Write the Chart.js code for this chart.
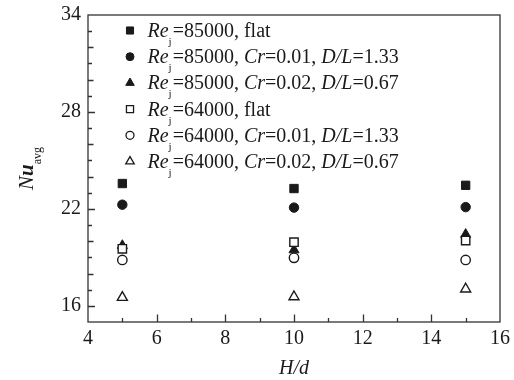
<!DOCTYPE html>
<html>
  <head>
    <script src="https://cdn.jsdelivr.net/npm/chart.js"></script>
    <style>
      body { margin: 0; background: #fff; }
    </style>
  </head>
  <body>
    <canvas id="nu-chart" width="514" height="380"></canvas>
    <script>
      // H/d positions of the measurements
      var hd = [5, 10, 15];

      // Nu_avg for Re_j = 85000
      var flat85 = [23.57, 23.26, 23.46];
      var cr01_85 = [22.26, 22.08, 22.11];
      var cr02_85 = [19.73, 19.46, 20.42];

      // Nu_avg for Re_j = 64000
      var flat64 = [19.53, 19.94, 20.04];
      var cr01_64 = [18.84, 18.97, 18.84];
      var cr02_64 = [16.52, 16.56, 17.04];

      var xTicks = [4, 6, 8, 10, 12, 14, 16];
      var yTicks = [16, 22, 28, 34];

      // legend pieces: jet Reynolds number and (Cr, D/L) of the surface
      var reValues = ['85000', '85000', '85000', '64000', '64000', '64000'];
      var crValues = [null, '0.01', '0.02', null, '0.01', '0.02'];
      var dlValues = [null, '1.33', '0.67', null, '1.33', '0.67'];

      var series = [flat85, cr01_85, cr02_85, flat64, cr01_64, cr02_64];
      var shapes = ['rect', 'circle', 'triangle', 'rect', 'circle', 'triangle'];
      var filled = [true, true, true, false, false, false];
      var radii = { rect: 5.9, circle: 4.7, triangle: 5.8 };

      var ink = '#1a1a1a';
      var serif = '"Liberation Serif", "Times New Roman", serif';

      var datasets = series.map(function(vals, i) {
        return {
          data: vals.map(function(v, k) { return { x: hd[k], y: v }; }),
          pointStyle: shapes[i],
          pointRadius: radii[shapes[i]],
          pointHoverRadius: radii[shapes[i]],
          backgroundColor: filled[i] ? ink : '#fff',
          borderColor: ink,
          pointBorderWidth: filled[i] ? 1 : 1.4,
          showLine: false,
          order: 6 - i
        };
      });

      function legendParts(i) {
        var parts = [['Re', 'i'], ['j', 's'], ['=' + reValues[i] + ', ', 'n']];
        if (crValues[i] === null) {
          parts.push(['flat', 'n']);
        } else {
          parts.push(['Cr', 'i'], ['=' + crValues[i] + ', ', 'n'], ['D/L', 'i'], ['=' + dlValues[i], 'n']);
        }
        return parts;
      }

      // writes a run of text pieces: 'n' upright, 'i' italic, 'b' bold italic, 's' subscript
      function richText(ctx, x, y, parts, size, subSize) {
        parts.forEach(function(p) {
          var dy = 0;
          if (p[1] === 's') {
            ctx.font = subSize + 'px ' + serif;
            dy = size * 0.4;
          } else if (p[1] === 'i') {
            ctx.font = 'italic ' + size + 'px ' + serif;
          } else if (p[1] === 'b') {
            ctx.font = 'italic bold ' + size + 'px ' + serif;
          } else {
            ctx.font = size + 'px ' + serif;
          }
          ctx.fillText(p[0], x, y + dy);
          x += ctx.measureText(p[0]).width + (p[1] === 's' ? 1 : 0);
        });
        return x;
      }

      function richWidth(ctx, parts, size, subSize) {
        ctx.save();
        var w = richText(ctx, -9999, -9999, parts, size, subSize) + 9999;
        ctx.restore();
        return w;
      }

      function drawShape(ctx, shape, r, x, y) {
        if (shape === 'rect') {
          var s = r * Math.SQRT1_2;
          ctx.rect(x - s, y - s, 2 * s, 2 * s);
        } else if (shape === 'circle') {
          ctx.arc(x, y, r, 0, Math.PI * 2);
        } else {
          ctx.moveTo(x, y - r);
          ctx.lineTo(x + r * 0.866, y + r / 2);
          ctx.lineTo(x - r * 0.866, y + r / 2);
          ctx.closePath();
        }
      }

      var decorations = {
        id: 'decorations',
        afterDraw: function(chart) {
          var ctx = chart.ctx;
          var a = chart.chartArea;
          var xs = chart.scales.x;
          var ys = chart.scales.y;
          ctx.save();

          // frame and inward ticks
          ctx.strokeStyle = '#333';
          ctx.lineWidth = 1.3;
          ctx.strokeRect(a.left, a.top, a.right - a.left, a.bottom - a.top);
          ctx.beginPath();
          for (var v = 5; v < 16; v++) {
            var px = Math.round(xs.getPixelForValue(v)) + 0.5;
            ctx.moveTo(px, a.bottom);
            ctx.lineTo(px, a.bottom - (v % 2 ? 4 : 7.5));
          }
          for (var w = 16; w < 34; w++) {
            var py = Math.round(ys.getPixelForValue(w)) + 0.5;
            var len = yTicks.indexOf(w) >= 0 ? 7 : (w % 2 ? 4 : 5.5);
            ctx.moveTo(a.left, py);
            ctx.lineTo(a.left + len, py);
          }
          ctx.stroke();

          // legend
          ctx.textAlign = 'left';
          ctx.textBaseline = 'alphabetic';
          for (var i = 0; i < series.length; i++) {
            var cy = 30.5 + i * 26.2;
            ctx.fillStyle = filled[i] ? ink : '#fff';
            ctx.strokeStyle = ink;
            ctx.lineWidth = filled[i] ? 1 : 1.3;
            ctx.beginPath();
            drawShape(ctx, shapes[i], radii[shapes[i]] * 0.85, 130, cy);
            ctx.fill();
            ctx.stroke();
            ctx.fillStyle = ink;
            richText(ctx, 147.5, cy + 6.5, legendParts(i), 20, 11);
          }

          // x axis title
          ctx.font = 'italic 20px ' + serif;
          ctx.textAlign = 'center';
          ctx.fillText('H/d', (a.left + a.right) / 2, 374);

          // y axis title, rotated
          var yParts = [['N', 'i'], ['u', 'b'], ['avg', 's']];
          ctx.textAlign = 'left';
          var tw = richWidth(ctx, yParts, 21, 12);
          ctx.translate(33, 168);
          ctx.rotate(-Math.PI / 2);
          richText(ctx, -tw / 2, 0, yParts, 21, 12);

          ctx.restore();
        }
      };

      var ctx = document.getElementById('nu-chart').getContext('2d');
      var nuChart = new Chart(ctx, {
        type: 'scatter',
        data: { datasets: datasets },
        options: {
          responsive: false,
          animation: false,
          layout: { padding: { left: 0, right: 14, top: 15, bottom: 0 } },
          plugins: {
            legend: { display: false },
            tooltip: { enabled: false }
          },
          scales: {
            x: {
              min: 4,
              max: 16,
              grid: { display: false, drawTicks: false },
              border: { display: false },
              afterBuildTicks: function(scale) {
                scale.ticks = xTicks.map(function(v) { return { value: v }; });
              },
              afterFit: function(scale) {
                scale.height = 58;
                scale.paddingLeft = 0;
                scale.paddingRight = 0;
              },
              ticks: {
                padding: 5,
                color: ink,
                maxRotation: 0,
                font: { family: serif, size: 20 }
              }
            },
            y: {
              min: 15,
              max: 34,
              grid: { display: false, drawTicks: false },
              border: { display: false },
              afterBuildTicks: function(scale) {
                scale.ticks = yTicks.map(function(v) { return { value: v }; });
              },
              afterFit: function(scale) {
                scale.width = 88;
                scale.paddingTop = 0;
                scale.paddingBottom = 0;
              },
              ticks: {
                padding: 7,
                color: ink,
                font: { family: serif, size: 20 }
              }
            }
          }
        },
        plugins: [decorations]
      });
    </script>
  </body>
</html>
